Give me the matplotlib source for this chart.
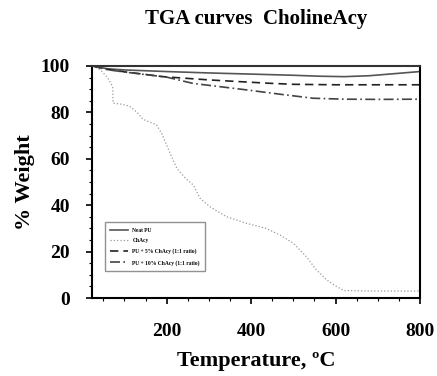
import matplotlib.pyplot as plt
from matplotlib.ticker import MultipleLocator

# series 1 - solid
t_solid = [25, 60, 100, 200, 300, 400, 500, 560, 620, 680, 740, 800]
w_solid = [100, 98.8, 98.3, 97.6, 97.0, 96.5, 96.0, 95.6, 95.4, 95.8, 96.7, 97.6]

# series 2 - dotted, the big drop
t_dot = [25, 42, 60, 72, 73, 90, 106, 113, 130, 144, 160, 176, 188, 208, 224, 245, 263,
         279, 302, 342, 389, 436, 468, 500, 531, 555, 579, 603, 620, 700, 800]
w_dot = [100, 98.5, 95, 91, 84, 83.6, 83, 82.5, 80, 77, 75.8, 74.6, 71, 62.4, 55.9, 51.5,
         48.7, 43, 39.4, 35, 32.2, 30, 27.2, 23.6, 17.8, 12, 7.8, 4.9, 3.2, 3.0, 3.0]

# series 3 - dashed
t_dash = [25, 60, 100, 191, 300, 437, 500, 600, 700, 800]
w_dash = [100, 98.5, 97.5, 95.4, 94.0, 92.6, 92.1, 91.9, 91.9, 91.9]

# series 4 - dash dot
t_dd = [25, 60, 100, 200, 262, 330, 389, 470, 547, 620, 700, 800]
w_dd = [100, 98.4, 97.4, 95.2, 92.5, 91.0, 89.7, 87.8, 86.1, 85.7, 85.6, 85.7]

labels = ["Neat PU", "ChAcy", "PU + 5% ChAcy (1:1 ratio)", "PU + 10% ChAcy (1:1 ratio)"]

plt.rcParams['font.family'] = ['Liberation Serif', 'DejaVu Serif']
plt.rcParams['font.weight'] = 'bold'

fig = plt.figure(figsize=(4.37, 3.76), dpi=100)
ax = fig.add_axes([0.2105, 0.2074, 0.7505, 0.6171])

ax.plot(t_solid, w_solid, color='#555555', lw=1.2, ls='-', label=labels[0])
ax.plot(t_dot, w_dot, color='#999999', lw=0.9, ls=':', label=labels[1])
ax.plot(t_dash, w_dash, color='#222222', lw=1.2, ls=(0, (5, 3)), label=labels[2])
ax.plot(t_dd, w_dd, color='#444444', lw=1.2, ls=(0, (6, 2, 1, 2)), label=labels[3])

ax.set_xlim(23, 800)
ax.set_ylim(0, 100)
ax.xaxis.set_major_locator(MultipleLocator(200))
ax.xaxis.set_minor_locator(MultipleLocator(50))
ax.yaxis.set_major_locator(MultipleLocator(20))
ax.yaxis.set_minor_locator(MultipleLocator(5))
ax.tick_params(which='major', direction='out', length=4, width=1.2, labelsize=14)
ax.tick_params(axis='x', which='major', pad=14)
ax.tick_params(axis='y', which='major', pad=12)
ax.tick_params(which='minor', direction='out', length=2, width=0.8)
for sp in ax.spines.values():
    sp.set_linewidth(1.5)
ax.spines['top'].set_color('#333333')

ax.set_xlabel('Temperature, ºC', fontsize=16, fontweight='bold', labelpad=8)
ax.set_ylabel('% Weight', fontsize=16, fontweight='bold', labelpad=4)
fig.text(0.586, 0.950, 'TGA curves  CholineAcy', fontsize=15, fontweight='bold',
         ha='center', va='center')

leg = ax.legend(loc='lower left', bbox_to_anchor=(0.03, 0.103), fontsize=4,
                frameon=True, fancybox=False, edgecolor='#777777',
                handlelength=3.2, borderpad=1.0, labelspacing=1.0)
leg.get_frame().set_linewidth(1.0)

fig.savefig('out.png', dpi=100)
